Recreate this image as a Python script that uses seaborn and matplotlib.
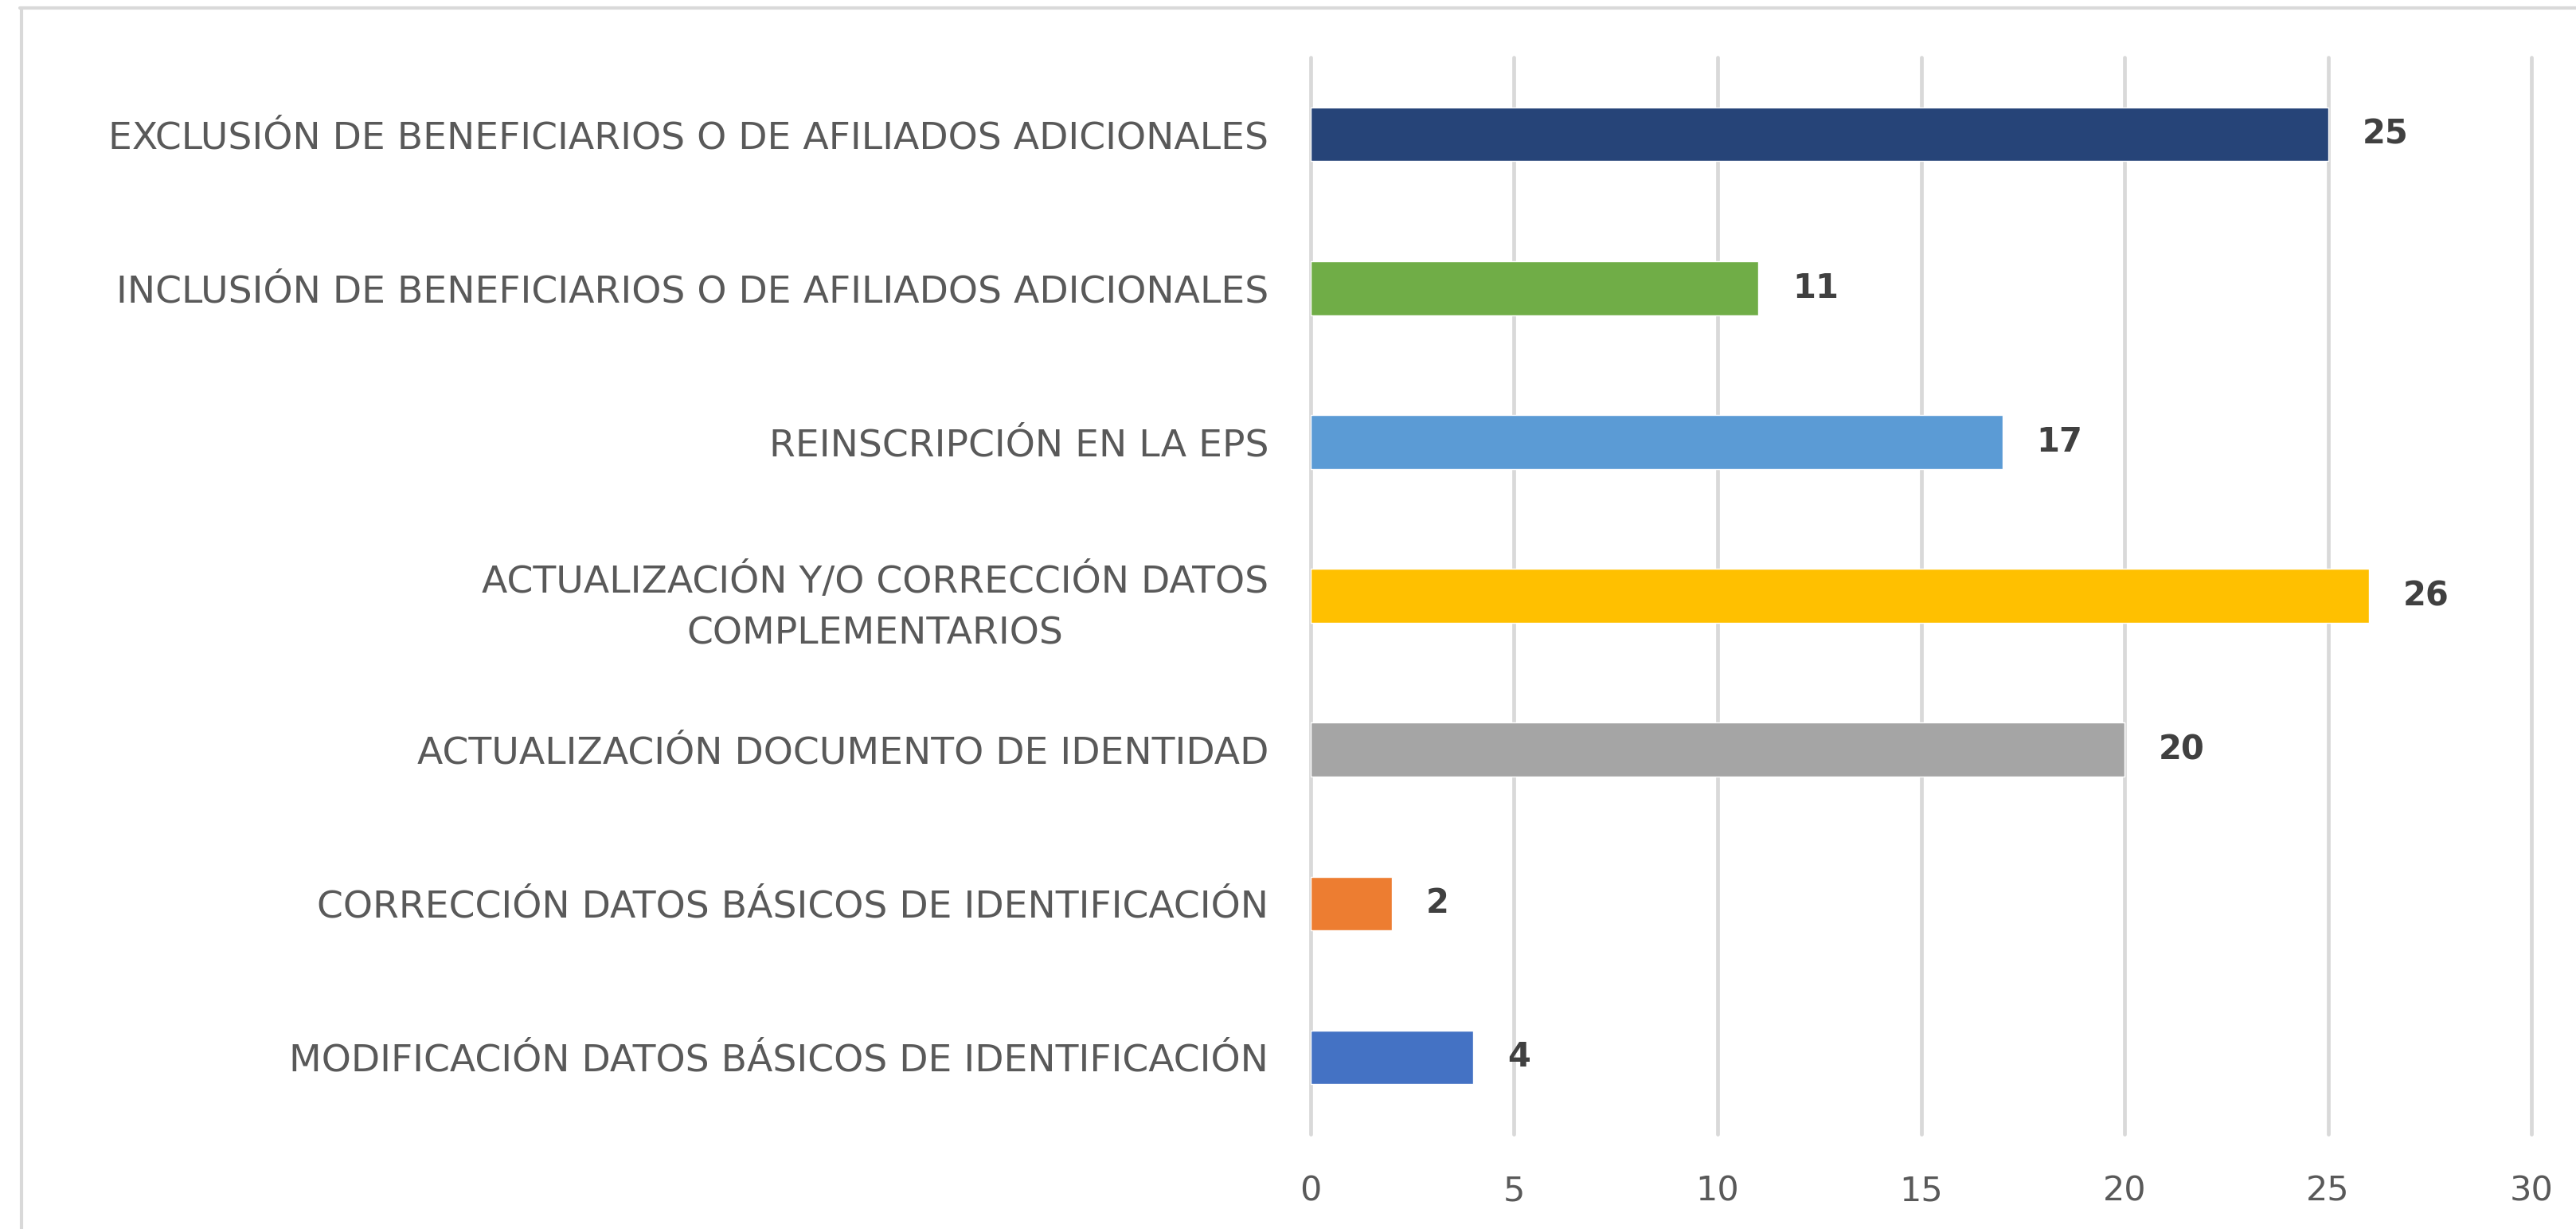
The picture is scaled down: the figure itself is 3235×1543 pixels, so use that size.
import matplotlib
matplotlib.use("Agg")
import matplotlib.pyplot as plt
from matplotlib.lines import Line2D
import seaborn as sns

sns.set_style('white')

# chart data
categories = [
    "EXCLUSIÓN DE BENEFICIARIOS O DE AFILIADOS ADICIONALES",
    "INCLUSIÓN DE BENEFICIARIOS O DE AFILIADOS ADICIONALES",
    "REINSCRIPCIÓN EN LA EPS",
    "ACTUALIZACIÓN Y/O CORRECCIÓN DATOS\nCOMPLEMENTARIOS",
    "ACTUALIZACIÓN DOCUMENTO DE IDENTIDAD",
    "CORRECCIÓN DATOS BÁSICOS DE IDENTIFICACIÓN",
    "MODIFICACIÓN DATOS BÁSICOS DE IDENTIFICACIÓN",
]
values = [25, 11, 17, 26, 20, 2, 4]
bar_colors = ["#264478", "#70AD47", "#5B9BD5", "#FFC000", "#A5A5A5", "#ED7D31", "#4472C4"]
x_ticks = [0, 5, 10, 15, 20, 25, 30]

plt.rcParams['font.family'] = ['DejaVu Sans']
text_gray = "#595959"
grid_gray = "#D9D9D9"

fig = plt.figure(figsize=(32.35, 15.43), dpi=100)
ax = fig.add_axes([0.5088, 0.0771, 0.4739, 0.8762])

sns.barplot(x=values, y=categories, hue=categories, palette=bar_colors,
            orient='h', width=0.35, legend=False, saturation=1, ax=ax)

for cont in ax.containers:
    ax.bar_label(cont, padding=31, fontsize=30, fontweight='bold', color="#404040")

ax.set_xlim(0, 30)
ax.set_xticks(x_ticks)
ax.set_xticklabels([str(t) for t in x_ticks])
ax.set_ylim(6.5, -0.5)
ax.set_xlabel("")
ax.set_ylabel("")

ax.xaxis.grid(True, color=grid_gray, linewidth=3.4)
ax.set_axisbelow(True)
for gl in ax.get_xgridlines():
    gl.set_clip_on(False)
sns.despine(ax=ax, left=True, bottom=True)

ax.tick_params(axis='x', length=0, pad=36, labelsize=31, labelcolor=text_gray)
ax.tick_params(axis='y', length=0, pad=38, labelsize=34, labelcolor=text_gray)
for lab in ax.get_yticklabels():
    lab.set_multialignment('center')
    lab.set_linespacing(1.55)

# light frame lines round the chart area (top and left)
fig.add_artist(Line2D([0.0077, 1.0], [0.9935, 0.9935], color=grid_gray, linewidth=3))
fig.add_artist(Line2D([0.0083, 0.0083], [0.0, 0.9935], color=grid_gray, linewidth=3))

fig.savefig("out.png", dpi=100, facecolor="white")
